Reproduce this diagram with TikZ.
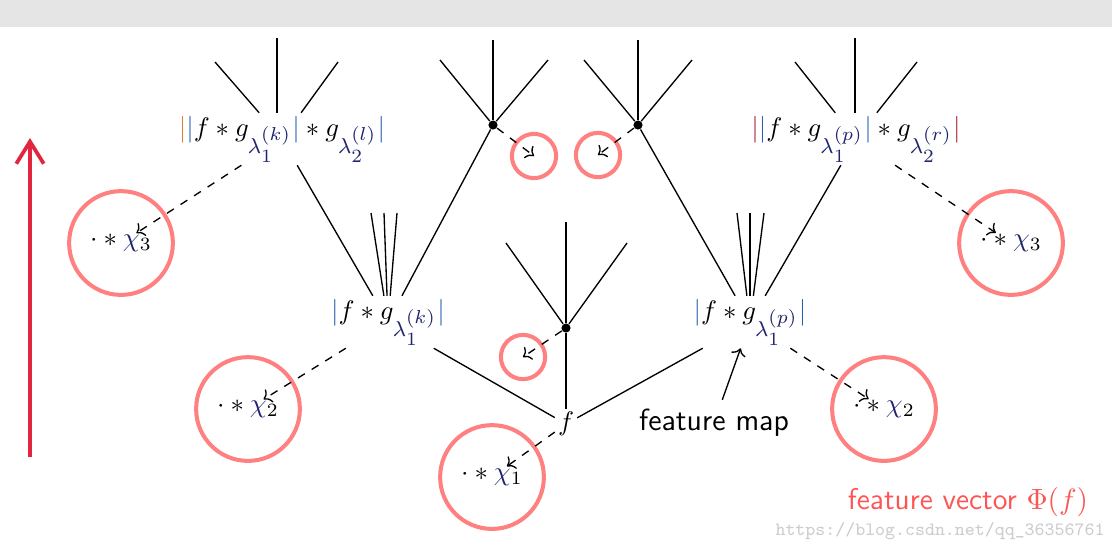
\documentclass[tikz,border=0pt]{standalone}
\usepackage{xcolor}
\usepackage{tikz}
\usetikzlibrary{arrows.meta,calc}
\definecolor{ringred}{RGB}{255,128,128}
\definecolor{arrowred}{RGB}{226,38,64}
\definecolor{textred}{RGB}{255,84,84}
\definecolor{barorange}{RGB}{214,128,48}
\definecolor{barblue}{RGB}{40,96,180}
\definecolor{barred}{RGB}{168,28,56}
\definecolor{lamblue}{RGB}{30,36,110}
\definecolor{topgray}{RGB}{229,229,229}
\definecolor{markgray}{RGB}{205,205,205}
\DeclareMathSizes{10.4}{10.4}{8.4}{6.6}
\tikzset{
    coef/.style={inner sep=1pt, font=\fontsize{10.4}{13}\selectfont},
    hub/.style={circle, fill=black, inner sep=0pt, minimum size=0.12cm},
    ring/.style={circle, draw=ringred, line width=1.5pt, minimum size=1.36cm, inner sep=0pt},
    smallring/.style={circle, draw=ringred, line width=1.5pt, minimum size=0.58cm, inner sep=0pt},
    branch/.style={line width=0.5pt},
    feed/.style={->, dashed, line width=0.5pt, shorten >=0.24cm},
    lift/.style={-{Straight Barb[length=2.9mm,width=3.6mm]}, line width=1.4pt, draw=arrowred}
}
\newcommand{\lam}[2]{\textcolor{lamblue}{\lambda_{#1}^{(#2)}}}
\newcommand{\chix}[1]{\cdot*\textcolor{lamblue}{\chi}_{#1}}

\begin{document}
\begin{tikzpicture}[x=0.0131cm, y=-0.0131cm]
\useasboundingbox (0,0) rectangle (1112,552);
\fill[topgray] (0,0) rectangle (1112,27);

% scattering nodes
\node[coef] (f) at (566,424) {$f$};
\node[coef] (m1) at (388,322) {$\textcolor{barblue}{|}f*g_{\lam1k}\textcolor{barblue}{|}$};
\node[coef] (m2) at (750,322) {$\textcolor{barblue}{|}f*g_{\lam1p}\textcolor{barblue}{|}$};
\node[coef] (t1) at (282,139) {$\textcolor{barorange}{|}\textcolor{barblue}{|}f*g_{\lam1k}\textcolor{barblue}{|}*g_{\lam2l}\textcolor{barblue}{|}$};
\node[coef] (t2) at (856,139) {$\textcolor{barred}{|}\textcolor{barblue}{|}f*g_{\lam1p}\textcolor{barblue}{|}*g_{\lam2r}\textcolor{barred}{|}$};
\node[hub] (d0) at (566,328) {};
\node[hub] (d1) at (493,125) {};
\node[hub] (d2) at (638,125) {};

% averaging rings
\node[ring] (x3l) at (121,243) {$\chix3$};
\node[ring] (x2l) at (248,409) {$\chix2$};
\node[ring] (x1) at (492,477) {$\chix1$};
\node[ring] (x2r) at (884,409) {$\chix2$};
\node[ring] (x3r) at (1011,243) {$\chix3$};
\node[smallring] (s0) at (523,357) {};
\node[smallring] (s1) at (534,156) {};
\node[smallring] (s2) at (598,155) {};

% labels
\node[font=\sffamily\fontsize{11.4}{14}\selectfont] (fm) at (714,423) {feature map};
\node[font=\sffamily\fontsize{11.2}{14}\selectfont, text=textred] (fv) at (968,502) {feature vector $\Phi(f)$};
\node[font=\fontsize{7}{8}\selectfont\ttfamily, text=markgray] (wm) at (940,531) {https://blog.csdn.net/qq\_36356761};

% tree
\draw[branch] (f) -- (m1);
\draw[branch] (f) -- (m2);
\draw[branch] (d0) -- (f);
\draw[branch] (m1) -- (t1);
\draw[branch] (m1) -- (d1);
\draw[branch] (m2) -- (d2);
\draw[branch] (m2) -- (t2);
\foreach \px/\py [count=\i] in {215/62,338/62} {\coordinate (t1c\i) at (\px,\py); \draw[branch] (t1c\i) -- (t1);}
\coordinate (t1v) at (277,38);
\draw[branch] (t1v) -- (t1v |- t1.north);
\foreach \px/\py [count=\i] in {795/62,917/62} {\coordinate (t2c\i) at (\px,\py); \draw[branch] (t2c\i) -- (t2);}
\coordinate (t2v) at (855,38);
\draw[branch] (t2v) -- (t2v |- t2.north);
\foreach \px/\py [count=\i] in {440/60,493/40,548/60} {\coordinate (d1c\i) at (\px,\py); \draw[branch] (d1c\i) -- (d1);}
\foreach \px/\py [count=\i] in {584/60,638/40,692/60} {\coordinate (d2c\i) at (\px,\py); \draw[branch] (d2c\i) -- (d2);}
\foreach \px/\py [count=\i] in {506/243,566/222,627/243} {\coordinate (d0c\i) at (\px,\py); \draw[branch] (d0c\i) -- (d0);}
\foreach \px/\py [count=\i] in {371/213,384/213,397/213} {\coordinate (m1c\i) at (\px,\py); \draw[branch] (m1c\i) -- (m1);}
\foreach \px/\py [count=\i] in {737/213,750/213,764/213} {\coordinate (m2c\i) at (\px,\py); \draw[branch] (m2c\i) -- (m2);}

% averaging
\draw[feed] (f) -- (x1.center);
\draw[feed] (m1) -- (x2l.center);
\draw[feed] (m2) -- (x2r.center);
\draw[feed] (t1) -- (x3l.center);
\draw[feed] (t2) -- (x3r.center);
\draw[feed, shorten >=0pt] (d0) -- (s0.center);
\draw[feed, shorten >=0pt] (d1) -- (s1.center);
\draw[feed, shorten >=0pt] (d2) -- (s2.center);

\draw[->, line width=0.5pt] (fm) -- (m2);
\coordinate (lb) at (30,457);
\coordinate (lt) at (30,138);
\draw[lift] (lb) -- (lt);
\end{tikzpicture}
\end{document}
